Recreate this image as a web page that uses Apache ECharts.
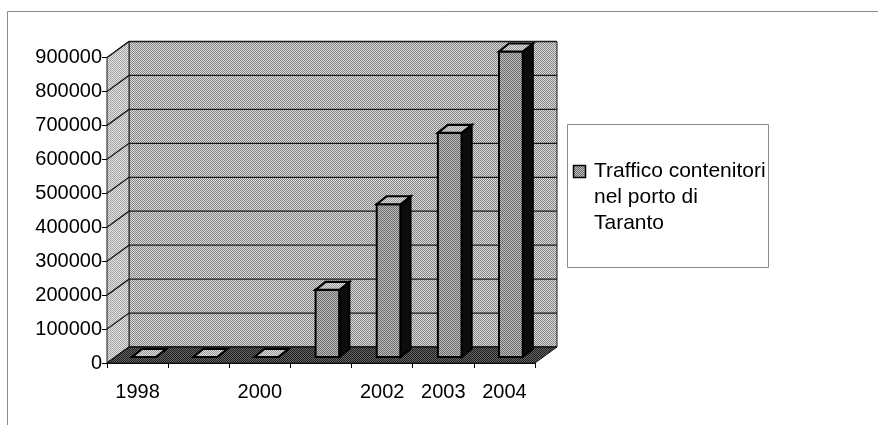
<!DOCTYPE html>
<html>
<head>
<meta charset="utf-8">
<script src="https://cdn.jsdelivr.net/npm/echarts@6/dist/echarts.min.js"></script>
<style>
  html, body { margin: 0; padding: 0; background: #fff; }
  #chart { width: 878px; height: 425px; }
</style>
</head>
<body>
<div id="chart"></div>
<script>
// Container traffic (TEU) in the port of Taranto
const years = ['1998', '1999', '2000', '2001', '2002', '2003', '2004'];
const teu = [0, 0, 0, 198000, 450000, 660000, 900000];
const yTicks = [0, 100000, 200000, 300000, 400000, 500000, 600000, 700000, 800000, 900000];
const shownYears = ['1998', '2000', '2002', '2003', '2004'];
const legendLines = ['Traffico contenitori', 'nel porto di', 'Taranto'];

// 3D projection offsets (pixels)
const WALL_DX = 22, WALL_DY = -16;   // depth of the chart box
const BAR_FX = 6.5, BAR_FY = -6;     // front face of the columns inside the box
const BAR_DX = 10, BAR_DY = -8;      // depth of a column
const FONT = 'Liberation Sans, Arial, sans-serif';

// Two-tone dithered fills
function dither(dark, light) {
  const c = document.createElement('canvas');
  c.width = 2; c.height = 2;
  const g = c.getContext('2d');
  g.fillStyle = light; g.fillRect(0, 0, 2, 2);
  g.fillStyle = dark; g.fillRect(0, 0, 1, 1); g.fillRect(1, 1, 1, 1);
  return { image: c, repeat: 'repeat' };
}
const backFill = dither('#858585', '#dadada');
const sideFill = dither('#a0a0a0', '#e6e6e6');
const floorFill = dither('#1e1e1e', '#666666');
const barFront = dither('#6e6e6e', '#bababa');
const barTop = dither('#9a9a9a', '#dcdcdc');

const chart = echarts.init(document.getElementById('chart'), null, { renderer: 'canvas' });

function renderWalls(params, api) {
  const cs = params.coordSys;
  const x0 = cs.x, x1 = cs.x + cs.width;
  const yT = cs.y, yB = cs.y + cs.height;
  return {
    type: 'group',
    children: [
      { type: 'rect', shape: { x: x0 + WALL_DX, y: yT + WALL_DY, width: cs.width, height: cs.height },
        style: { fill: backFill, stroke: '#1a1a1a', lineWidth: 1 } },
      { type: 'polygon', shape: { points: [[x0, yT], [x0 + WALL_DX, yT + WALL_DY], [x0 + WALL_DX, yB + WALL_DY], [x0, yB]] },
        style: { fill: sideFill, stroke: '#1a1a1a', lineWidth: 1 } },
      { type: 'polygon', shape: { points: [[x0, yB], [x0 + WALL_DX, yB + WALL_DY], [x1 + WALL_DX, yB + WALL_DY], [x1, yB]] },
        style: { fill: floorFill, stroke: '#1a1a1a', lineWidth: 1 } }
    ]
  };
}

function renderGrid(params, api) {
  const cs = params.coordSys;
  const x0 = cs.x, x1 = cs.x + cs.width;
  const y = api.coord([0, api.value(1)])[1];
  return {
    type: 'polyline',
    shape: { points: [[x0, y], [x0 + WALL_DX, y + WALL_DY], [x1 + WALL_DX, y + WALL_DY]] },
    style: { stroke: '#1a1a1a', lineWidth: 1.3, fill: null }
  };
}

function renderBar(params, api) {
  const idx = api.value(0);
  const base = api.coord([idx, 0]);
  const top = api.coord([idx, api.value(1)]);
  const band = api.size([1, 0])[0];
  const w = band * 0.39;
  const cx = base[0] + BAR_FX;
  const l = cx - w / 2, r = cx + w / 2;
  const yb = base[1] + BAR_FY, yt = top[1] + BAR_FY;
  return {
    type: 'group',
    children: [
      { type: 'rect', shape: { x: l, y: yt, width: w, height: yb - yt },
        style: { fill: barFront, stroke: '#000', lineWidth: 2 } },
      { type: 'polygon', shape: { points: [[r, yt], [r + BAR_DX, yt + BAR_DY], [r + BAR_DX, yb + BAR_DY], [r, yb]] },
        style: { fill: '#0c0c0c', stroke: '#000', lineWidth: 2 } },
      { type: 'polygon', shape: { points: [[l, yt], [l + BAR_DX, yt + BAR_DY], [r + BAR_DX, yt + BAR_DY], [r, yt]] },
        style: { fill: barTop, stroke: '#000', lineWidth: 2.2 } }
    ]
  };
}

chart.setOption({
  animation: false,
  backgroundColor: '#fff',
  grid: { left: 107, right: 343, top: 57.5, bottom: 62, containLabel: false },
  xAxis: {
    type: 'category',
    data: years,
    boundaryGap: true,
    axisLine: { show: true, lineStyle: { color: '#000', width: 1 } },
    axisTick: { show: true, length: 5, interval: 0, lineStyle: { color: '#000' } },
    axisLabel: {
      interval: (i, v) => shownYears.includes(v),
      margin: 19, fontSize: 20, fontFamily: FONT, color: '#000'
    },
    splitLine: { show: false }
  },
  yAxis: {
    type: 'value',
    min: 0, max: 900000, interval: 100000,
    axisLine: { show: true, lineStyle: { color: '#000', width: 1 } },
    axisTick: { show: true, length: 5, lineStyle: { color: '#000' } },
    axisLabel: { margin: 5, fontSize: 20, fontFamily: FONT, color: '#000',
                 formatter: v => String(v) },
    splitLine: { show: false }
  },
  series: [
    { type: 'custom', name: 'walls', z: 1, silent: true, clip: false,
      renderItem: renderWalls, data: [[0, 0]] },
    { type: 'custom', name: 'grid', z: 1.5, silent: true, clip: false,
      renderItem: renderGrid, data: yTicks.map(v => [0, v]) },
    { type: 'custom', name: legendLines.join(' '), z: 3, clip: false,
      renderItem: renderBar, data: teu.map((v, i) => [i, v]) }
  ],
  graphic: [
    { type: 'rect', z: 0, silent: true,
      shape: { x: 7.5, y: 11.5, width: 900, height: 440 },
      style: { fill: null, stroke: '#8a8a8a', lineWidth: 1 } },
    { type: 'group', left: 567, top: 124, children: [
      { type: 'rect', shape: { x: 0.5, y: 0.5, width: 201, height: 143 },
        style: { fill: '#fff', stroke: '#8a8a8a', lineWidth: 1 } },
      { type: 'rect', shape: { x: 6.5, y: 41.5, width: 12, height: 12 },
        style: { fill: barFront, stroke: '#000', lineWidth: 1.5 } },
      { type: 'text', x: 27, y: 34,
        style: { text: legendLines.join('\n'), font: '21px ' + FONT, lineHeight: 26,
                 fill: '#000', verticalAlign: 'top', align: 'left' } }
    ]}
  ]
});
</script>
</body>
</html>
